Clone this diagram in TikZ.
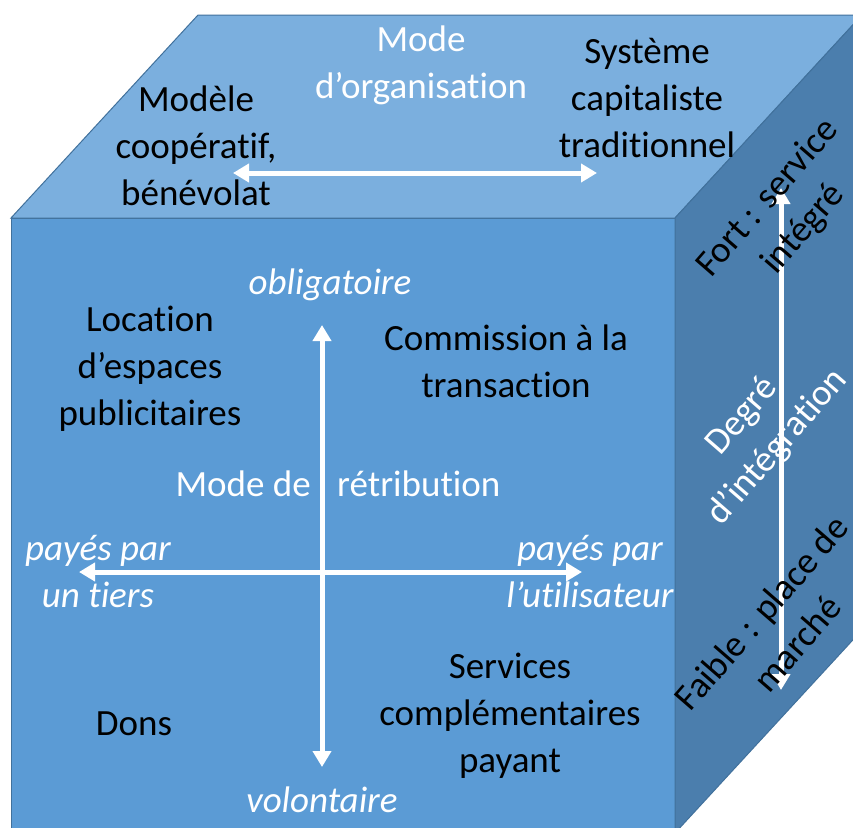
\documentclass[tikz,border=0pt]{standalone}
\usepackage{fontspec}
\setmainfont[Ligatures=NoCommon]{Carlito}
\usetikzlibrary{arrows.meta}
\definecolor{frontc}{HTML}{5B9BD5}
\definecolor{topc}{HTML}{7BAFDE}
\definecolor{sidec}{HTML}{4B7EAD}
\definecolor{edgec}{HTML}{41719C}
\tikzset{
  face/.style={draw=edgec, line width=1pt},
  lbl/.style={align=center, font=\fontsize{37}{47}\selectfont, text=black, inner sep=0pt},
  wlbl/.style={align=center, font=\fontsize{37}{47}\selectfont\itshape, text=white, inner sep=0pt},
  wup/.style={align=center, font=\fontsize{37}{47}\selectfont, text=white, inner sep=0pt},
  wdarrow/.style={draw=white, line width=5pt, {Triangle[width=18pt,length=16pt]}-{Triangle[width=18pt,length=16pt]}}
}
\begin{document}
\begin{tikzpicture}[x=1pt, y=-1pt]
\useasboundingbox (0,0) rectangle (853,827);
\clip (0,0) rectangle (853,827);
% faces
\fill[white] (0,0) rectangle (853,827);
\draw[face, fill=frontc] (11,218) rectangle (675,840);
\draw[face, fill=topc] (11,218) -- (198,15) -- (862,15) -- (675,218) -- cycle;
\draw[face, fill=sidec] (675,218) -- (862,15) -- (862,630) -- (675,833) -- cycle;
% top face
\coordinate (tl) at (233,173);
\coordinate (tr) at (597,173);
\draw[wdarrow] (tl) -- (tr);
\node[wup] (modeorg) at (421,65) {Mode\\d’organisation};
\node[lbl] (coop) at (196,146) {Modèle\\coopératif,\\bénévolat};
\node[lbl] (capit) at (647,98) {Système\\capitaliste\\traditionnel};
% front face
\coordinate (vt) at (322,325);
\coordinate (vb) at (322,767);
\coordinate (hl) at (79,572);
\coordinate (hr) at (582,572);
\draw[wdarrow] (vb) -- (vt);
\draw[wdarrow] (hl) -- (hr);
\node[wlbl] (oblig) at (330,285) {obligatoire};
\node[wlbl] (volont) at (322,800) {volontaire};
\node[lbl] (locat) at (150,369) {Location\\d’espaces\\publicitaires};
\node[lbl] (commis) at (506,361) {Commission à la\\transaction};
\node[wup, anchor=east] (modede) at (311,484) {Mode de};
\node[wup, anchor=west] (retrib) at (337,484) {rétribution};
\node[wlbl] (tiers) at (98,572) {payés par\\un tiers};
\node[wlbl] (util) at (590,572) {payés par\\l’utilisateur};
\node[lbl] (dons) at (134,724) {Dons};
\node[lbl] (serv) at (510,716) {Services\\complémentaires\\payant};
% right face
\coordinate (rt) at (781,188);
\coordinate (rb) at (781,690);
\draw[wdarrow] (rb) -- (rt);
\node[lbl, rotate=49] (fort) at (786,214) {Fort : service\\intégré};
\node[wup, rotate=49] (degre) at (760,432) {Degré\\d’intégration};
\node[lbl, rotate=49] (faible) at (779,628) {Faible : place de\\marché};
\end{tikzpicture}
\end{document}
